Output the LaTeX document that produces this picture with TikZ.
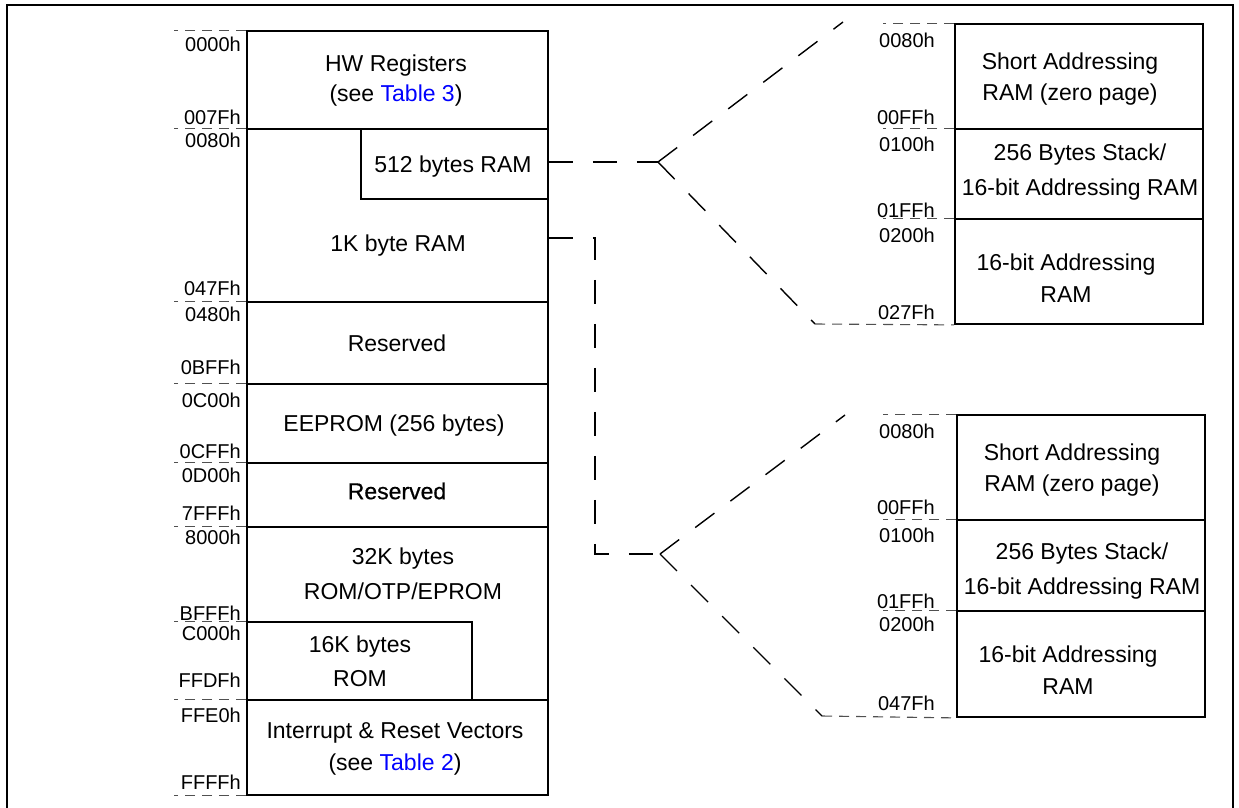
\documentclass[tikz,border=0pt]{standalone}
\usepackage{fontspec}
\setmainfont{Liberation Sans}
\newfontfamily\heavier[FakeBold=0.6]{Liberation Sans}
\usetikzlibrary{fit}
\definecolor{linkblue}{RGB}{0,0,255}
\definecolor{tickgray}{RGB}{80,80,80}
\begin{document}
\begin{tikzpicture}[x=1pt,y=-1pt,
  region/.style={draw, line width=1.8pt, inner sep=0pt},
  lbl/.style={font=\fontsize{23}{31}\selectfont, align=center, inner sep=0pt},
  wide/.style={font=\fontsize{23}{35}\selectfont},
  addr/.style={font=\fontsize{20}{20}\selectfont, inner sep=0pt, anchor=east},
  tick/.style={draw=tickgray, line width=1.1pt, dash pattern=on 10pt off 7pt},
  link/.style={draw, line width=1.4pt, dash pattern=on 24pt off 20pt}]
\useasboundingbox (0,0) rectangle (1239,808);
% outer frame (open at the bottom)
\draw[line width=2pt] (7,808) -- (7,5) -- (1233,5) -- (1233,808);

% ---- main memory column ----
\node[region, fit={(247,31) (548,129)}] (hw) {};
\node[region, fit={(247,129) (548,302)}] (ram1k) {};
\node[region, fit={(361,129) (548,199)}] (sram) {};
\node[region, fit={(247,302) (548,384)}] (res1) {};
\node[region, fit={(247,384) (548,463)}] (eeprom) {};
\node[region, fit={(247,463) (548,527)}] (res2) {};
\node[region, fit={(247,527) (548,700)}] (rom32) {};
\node[region, fit={(247,622) (472,700)}] (rom16) {};
\node[region, fit={(247,700) (548,795)}] (vec) {};

\node[lbl, font=\fontsize{23}{30}\selectfont] (thw) at (396,81) {HW Registers\\(see \textcolor{linkblue}{Table 3})};
\node[lbl] (t512) at (453,167) {512 bytes RAM};
\node[lbl] (t1k) at (398,246) {1K byte RAM};
\node[lbl] (tres1) at (397,343) {Reserved};
\node[lbl] (tee) at (394,426) {EEPROM (256 bytes)};
\node[lbl, font=\heavier\fontsize{23}{31}\selectfont] (tres2) at (397,491) {Reserved};
\node[lbl, wide] (t32k) at (403,574) {32K bytes\\ROM/OTP/EPROM};
\node[lbl, font=\fontsize{23}{34}\selectfont] (t16k) at (360,661) {16K bytes\\ROM};
\node[lbl, font=\fontsize{23}{32}\selectfont] (tvec) at (395,749) {Interrupt \& Reset Vectors\\(see \textcolor{linkblue}{Table 2})};

% left ticks
\foreach \n in {hw,ram1k,res1,eeprom,res2,rom32,vec}
  \draw[tick] (\n.north west) -- ++(-72,0);
\draw[tick] (rom16.north west) -- ++(-72,0);
\draw[tick] (vec.south west) -- ++(-72,0);

% left addresses
\node[addr] (a1) at (241,44) {0000h};
\node[addr] (a2) at (241,117) {007Fh};
\node[addr] (a3) at (241,140) {0080h};
\node[addr] (a4) at (241,288) {047Fh};
\node[addr] (a5) at (241,314) {0480h};
\node[addr] (a6) at (241,367) {0BFFh};
\node[addr] (a7) at (241,400) {0C00h};
\node[addr] (a8) at (241,451) {0CFFh};
\node[addr] (a9) at (241,475) {0D00h};
\node[addr] (a10) at (241,513) {7FFFh};
\node[addr] (a11) at (241,537) {8000h};
\node[addr] (a12) at (241,613) {BFFFh};
\node[addr] (a13) at (241,633) {C000h};
\node[addr] (a14) at (241,680) {FFDFh};
\node[addr] (a15) at (241,715) {FFE0h};
\node[addr] (a16) at (241,782) {FFFFh};

% ---- upper detail ----
\node[region, fit={(955,24) (1203,129)}] (ub1) {};
\node[region, fit={(955,129) (1203,219)}] (ub2) {};
\node[region, fit={(955,219) (1203,324)}] (ub3) {};
\node[lbl] (tub1) at (1070,79) {Short Addressing\\RAM (zero page)};
\node[lbl, wide] (tub2) at (1080,172) {256 Bytes Stack/\\16-bit Addressing RAM};
\node[lbl, font=\fontsize{23}{32}\selectfont] (tub3) at (1066,278) {16-bit Addressing\\RAM};
\foreach \n in {ub1,ub2,ub3}
  \draw[tick] (\n.north west) -- ++(-71,0);
\node[addr] (u1) at (935,40) {0080h};
\node[addr] (u2) at (935,117) {00FFh};
\node[addr] (u3) at (935,144) {0100h};
\node[addr] (u4) at (935,210) {01FFh};
\node[addr] (u5) at (935,235) {0200h};
\node[addr] (u6) at (935,312) {027Fh};

% ---- lower detail ----
\node[region, fit={(957,415) (1205,520)}] (lb1) {};
\node[region, fit={(957,520) (1205,611)}] (lb2) {};
\node[region, fit={(957,611) (1205,717)}] (lb3) {};
\node[lbl] (tlb1) at (1072,470) {Short Addressing\\RAM (zero page)};
\node[lbl, wide] (tlb2) at (1082,571) {256 Bytes Stack/\\16-bit Addressing RAM};
\node[lbl, font=\fontsize{23}{32}\selectfont] (tlb3) at (1068,670) {16-bit Addressing\\RAM};
\foreach \n in {lb1,lb2,lb3}
  \draw[tick] (\n.north west) -- ++(-73,0);
\node[addr] (l1) at (935,431) {0080h};
\node[addr] (l2) at (935,507) {00FFh};
\node[addr] (l3) at (935,535) {0100h};
\node[addr] (l4) at (935,601) {01FFh};
\node[addr] (l5) at (935,624) {0200h};
\node[addr] (l6) at (935,703) {047Fh};

% ---- expansion connectors ----
\coordinate (f1) at (658,162);
\coordinate (f1t) at (843,22);
\coordinate (f1b) at (815,324);
\draw[link] (sram.east |- f1) -- (f1);
\draw[link] (f1) -- (f1t);
\draw[link] (f1) -- (f1b);
\draw[tick] (f1b) -- (ub3.south west);

\coordinate (lk) at (548,238);
\coordinate (lc1) at (595,238);
\coordinate (lc2) at (595,554);
\coordinate (f2) at (660,554);
\coordinate (f2t) at (845,415);
\coordinate (f2b) at (822,716);
\draw[link] (ram1k.east |- lk) -- (lc1) -- (lc2) -- (f2);
\draw[link] (f2) -- (f2t);
\draw[link] (f2) -- (f2b);
\draw[tick] (f2b) -- (lb3.south west);
\end{tikzpicture}
\end{document}
